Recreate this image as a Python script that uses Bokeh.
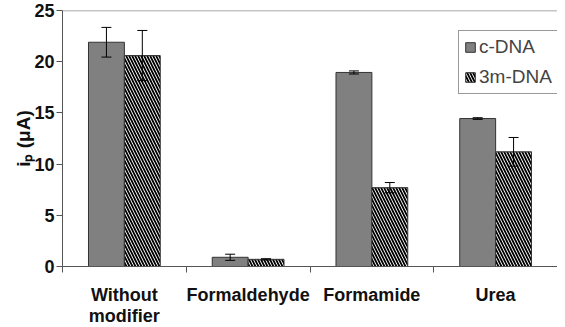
import numpy as np
from bokeh.plotting import figure
from bokeh.models import (ColumnDataSource, FixedTicker, Whisker, Span, Title,
                          Legend, LegendItem, Range1d)
from bokeh.embed import file_html
from bokeh.resources import INLINE

categories = ["Without\nmodifier", "Formaldehyde", "Formamide", "Urea"]
series = ["c-DNA", "3m-DNA"]
c_dna = [21.9, 0.9, 18.95, 14.45]
c_dna_err = [1.45, 0.3, 0.15, 0.08]
m3_dna = [20.6, 0.7, 7.7, 11.2]
m3_dna_err = [2.45, 0.06, 0.5, 1.4]
y_ticks = [0, 5, 10, 15, 20, 25]
y_title = "iₚ (μA)"

n = len(categories)
centers = np.arange(n) + 0.5
bw = 0.29

src_c = ColumnDataSource(dict(x=centers - bw / 2, top=c_dna,
                              upper=np.array(c_dna) + np.array(c_dna_err),
                              lower=np.array(c_dna) - np.array(c_dna_err)))
src_m = ColumnDataSource(dict(x=centers + bw / 2, top=m3_dna,
                              upper=np.array(m3_dna) + np.array(m3_dna_err),
                              lower=np.array(m3_dna) - np.array(m3_dna_err)))

p = figure(frame_width=495, frame_height=256, output_backend="svg",
           toolbar_location=None, x_range=Range1d(0, n), y_range=Range1d(0, 25),
           min_border_left=62, min_border_right=0, min_border_top=10,
           min_border_bottom=50)
p.outline_line_color = None
p.grid.visible = False
p.background_fill_color = "white"
p.border_fill_color = "white"

r1 = p.vbar(x="x", top="top", width=bw, source=src_c, fill_color="#808080",
            line_color="#333333", line_width=1)
r2 = p.vbar(x="x", top="top", width=bw, source=src_m, fill_color="white",
            line_color="#333333", line_width=1, hatch_pattern="left_diagonal_line",
            hatch_color="black", hatch_scale=6, hatch_weight=1.8)

for src in (src_c, src_m):
    w = Whisker(base="x", upper="upper", lower="lower", source=src,
                line_color="black", line_width=1, level="annotation")
    w.upper_head.size = 10
    w.lower_head.size = 10
    w.upper_head.line_color = "black"
    w.lower_head.line_color = "black"
    p.add_layout(w)

p.add_layout(Span(location=25, dimension="width", line_color="#8a8a8a", line_width=1.5))

# y axis
p.yaxis.ticker = FixedTicker(ticks=y_ticks, minor_ticks=[])
p.yaxis.axis_line_color = "#555555"
p.yaxis.major_tick_line_color = "#555555"
p.yaxis.major_tick_out = 6
p.yaxis.major_tick_in = 0
p.yaxis.major_label_standoff = 2
p.yaxis.major_label_text_font = "Liberation Sans"
p.yaxis.major_label_text_font_style = "bold"
p.yaxis.major_label_text_font_size = "18px"
p.yaxis.major_label_text_color = "#111111"

# x axis: labels at centers, ticks at category boundaries
p.xaxis.ticker = FixedTicker(ticks=list(centers), minor_ticks=list(range(n)))
p.xaxis.major_label_overrides = {float(c): lab for c, lab in zip(centers, categories)}
p.xaxis.major_tick_line_color = None
p.xaxis.major_tick_out = 0
p.xaxis.major_tick_in = 0
p.xaxis.minor_tick_line_color = "#555555"
p.xaxis.minor_tick_out = 6
p.xaxis.minor_tick_in = 0
p.xaxis.axis_line_color = "#555555"
p.xaxis.major_label_standoff = 12
p.xaxis.major_label_text_font = "Liberation Sans"
p.xaxis.major_label_text_font_style = "bold"
p.xaxis.major_label_text_font_size = "18px"
p.xaxis.major_label_text_color = "#111111"
p.xaxis.major_label_text_line_height = 1.05

# y axis title
p.add_layout(Title(text=y_title, align="center", offset=-17,
                   text_font="Liberation Sans", text_font_style="bold",
                   text_font_size="19px", text_color="#111111", standoff=-5), "left")

legend = Legend(items=[LegendItem(label=series[0], renderers=[r1]),
                       LegendItem(label=series[1], renderers=[r2])],
                location=(396, 172), border_line_color="#333333",
                border_line_width=1, background_fill_alpha=1,
                label_text_font="Liberation Sans", label_text_font_size="19px",
                glyph_width=12, glyph_height=12, label_standoff=3,
                padding=5, spacing=8, label_height=20)
p.add_layout(legend)

open("out.html", "w").write(file_html(p, INLINE))
